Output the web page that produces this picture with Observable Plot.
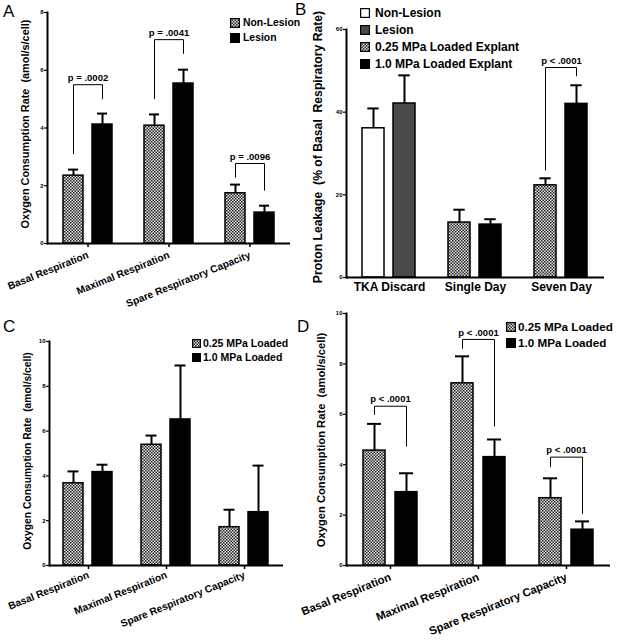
<!DOCTYPE html>
<html><head><meta charset="utf-8">
<script src="https://cdn.jsdelivr.net/npm/d3@7"></script>
<script src="https://cdn.jsdelivr.net/npm/@observablehq/plot@0.6"></script>
<style>
body{margin:0;background:#fff;}
#fig{position:relative;width:617px;height:644px;overflow:hidden;font-family:"Liberation Sans",Arial,sans-serif;color:#000;background:#fff;}
.panel{position:absolute;}
.ytitle{position:absolute;white-space:pre;font-weight:bold;transform:translate(-50%,-50%) rotate(-90deg);line-height:1;}
.letter{position:absolute;font-size:17px;line-height:1;}
.leg{position:absolute;display:flex;align-items:center;font-weight:bold;white-space:pre;line-height:1;}
.leg svg{display:block;}
</style></head>
<body>
<svg width="0" height="0" style="position:absolute"><defs>
<pattern id="checker" patternUnits="userSpaceOnUse" width="3" height="3">
<rect width="3" height="3" fill="#e0e0e0"/><rect width="1.5" height="1.5" fill="#262626"/><rect x="1.5" y="1.5" width="1.5" height="1.5" fill="#262626"/>
</pattern></defs></svg>
<div id="fig"></div>
<script>
// ---------- data ----------
const respCategories = ["Basal Respiration", "Maximal Respiration", "Spare Respiratory Capacity"];
const explantCategories = ["TKA Discard", "Single Day", "Seven Day"];

// Panel A
const aSeries = ["Non-Lesion", "Lesion"];
const aNonLesion = [2.35, 4.08, 1.74];
const aNonLesionErr = [0.21, 0.39, 0.30];
const aLesion = [4.12, 5.54, 1.07];
const aLesionErr = [0.38, 0.48, 0.24];
const aPCategories = ["Basal Respiration", "Maximal Respiration", "Spare Respiratory Capacity"];
const aPLabels = ["p = .0002", "p = .0041", "p = .0096"];
const aBracketTop = [5.5, 7.06, 2.77];
const aBracketLeftEnd = [3.1, 5.0, 2.28];
const aBracketRightEnd = [5.0, 6.57, 1.83];
const aTicks = [0, 2, 4, 6, 8];

// Panel B
const bSeries = ["Non-Lesion", "Lesion", "0.25 MPa Loaded Explant", "1.0 MPa Loaded Explant"];
const bLeftSeries = ["Non-Lesion", "0.25 MPa Loaded Explant", "0.25 MPa Loaded Explant"];
const bRightSeries = ["Lesion", "1.0 MPa Loaded Explant", "1.0 MPa Loaded Explant"];
const bLeft = [36.1, 13.3, 22.3];
const bLeftErr = [4.8, 3.1, 1.7];
const bRight = [42.1, 12.8, 42.0];
const bRightErr = [6.8, 1.3, 4.5];
const bPCategories = ["Seven Day"];
const bPLabels = ["p < .0001"];
const bBracketTop = [50.8];
const bBracketLeftEnd = [25.9];
const bBracketRightEnd = [48.7];
const bTicks = [0, 20, 40, 60];

// Panel C
const cSeries = ["0.25 MPa Loaded", "1.0 MPa Loaded"];
const cLow = [3.67, 5.39, 1.71];
const cLowErr = [0.53, 0.41, 0.78];
const cHigh = [4.17, 6.52, 2.38];
const cHighErr = [0.33, 2.41, 2.08];
const cTicks = [0, 2, 4, 6, 8, 10];

// Panel D
const dSeries = ["0.25 MPa Loaded", "1.0 MPa Loaded"];
const dLow = [4.56, 7.23, 2.67];
const dLowErr = [1.06, 1.07, 0.79];
const dHigh = [2.91, 4.30, 1.42];
const dHighErr = [0.75, 0.70, 0.33];
const dPCategories = ["Basal Respiration", "Maximal Respiration", "Spare Respiratory Capacity"];
const dPLabels = ["p < .0001", "p < .0001", "p < .0001"];
const dBracketTop = [6.32, 8.97, 4.3];
const dBracketLeftEnd = [5.98, 8.6, 3.9];
const dBracketRightEnd = [4.72, 5.52, 2.05];
const dTicks = [0, 2, 4, 6, 8, 10];

const CHECK = "url(#checker)";
const fig = document.getElementById("fig");

function panel(o) {
  const rows = o.cats.flatMap((c, i) => [
    {cat: c, slot: "left", series: o.leftSeries[i], value: o.left[i], err: o.leftErr[i]},
    {cat: c, slot: "right", series: o.rightSeries[i], value: o.right[i], err: o.rightErr[i]}
  ]);
  const br = (o.pCats || []).map((c, i) => ({cat: c, label: o.pLabels[i], top: o.top[i], lo: o.lEnd[i], ro: o.rEnd[i], xl: "left", xr: "right"}));
  const svg = Plot.plot({
    width: o.width, height: o.height,
    marginLeft: o.ml, marginRight: o.mr, marginTop: o.mt, marginBottom: o.mb,
    style: {fontFamily: "'Liberation Sans', Arial, sans-serif", background: "transparent", overflow: "visible", color: "black"},
    fx: {domain: o.cats, padding: 0, label: null},
    x: {domain: ["left", "right"], paddingInner: o.pi, paddingOuter: o.po, axis: null},
    y: {domain: o.yDomain, label: null},
    color: {domain: o.series, range: o.fills},
    marks: [
      Plot.ruleX(rows, {fx: "cat", x: "slot", y1: "value", y2: d => d.value + d.err, stroke: "black", strokeWidth: 2}),
      Plot.tickY(rows, {fx: "cat", x: "slot", y: d => d.value + d.err, stroke: "black", strokeWidth: 2, insetLeft: o.cap, insetRight: o.cap}),
      Plot.barY(rows, {fx: "cat", x: "slot", y: "value", fill: "series", stroke: "black", strokeWidth: 1.5}),
      Plot.link(br, {fx: "cat", x1: "xl", x2: "xl", y1: "lo", y2: "top", stroke: "black", strokeWidth: 1}),
      Plot.link(br, {fx: "cat", x1: "xl", x2: "xr", y1: "top", y2: "top", stroke: "black", strokeWidth: 1}),
      Plot.link(br, {fx: "cat", x1: "xr", x2: "xr", y1: "ro", y2: "top", stroke: "black", strokeWidth: 1}),
      Plot.text(br, {fx: "cat", y: "top", text: "label", dy: -7, fontSize: o.pFont, fontWeight: "bold", fill: "black"}),
      Plot.ruleY([0], {stroke: "black", strokeWidth: 2}),
      Plot.frame({anchor: "left", facetAnchor: "left", stroke: "black", strokeWidth: 2}),
      Plot.axisY({ticks: o.ticks, tickSize: 3, tickPadding: 1, fontSize: 6, fontWeight: "bold", label: null, strokeWidth: 1.2}),
      Plot.axisFx({anchor: "bottom", tickRotate: o.rotate, tickSize: o.tickSize, tickPadding: o.tickPadding, fontSize: o.xFont, fontWeight: "bold", label: null, strokeWidth: 1.5})
    ]
  });
  svg.classList.add("panel");
  svg.style.left = o.left0 + "px";
  svg.style.top = o.top0 + "px";
  fig.appendChild(svg);
}

function legend(items, fills, o) {
  items.forEach((name, i) => {
    const row = document.createElement("div");
    row.className = "leg";
    row.style.left = o.x + "px";
    row.style.top = (o.y + i * o.gap) + "px";
    row.style.height = o.gap + "px";
    row.style.fontSize = o.fontSize + "px";
    row.innerHTML = `<svg width="${o.size}" height="${o.size}" style="margin-right:${o.sep}px"><rect x="0.6" y="0.6" width="${o.size - 1.2}" height="${o.size - 1.2}" fill="${fills[i]}" stroke="black" stroke-width="1.2"/></svg><span>${name}</span>`;
    fig.appendChild(row);
  });
}

function label(text, cls, x, y, size) {
  const d = document.createElement("div");
  d.className = cls;
  d.textContent = text;
  d.style.left = x + "px";
  d.style.top = y + "px";
  if (size) d.style.fontSize = size + "px";
  fig.appendChild(d);
}

// Panel D first (its svg reaches above the panel row boundary)
panel({
  cats: respCategories, series: dSeries, fills: [CHECK, "black"],
  leftSeries: respCategories.map(() => dSeries[0]), rightSeries: respCategories.map(() => dSeries[1]),
  left: dLow, leftErr: dLowErr, right: dHigh, rightErr: dHighErr,
  pCats: dPCategories, pLabels: dPLabels, top: dBracketTop, lEnd: dBracketLeftEnd, rEnd: dBracketRightEnd,
  yDomain: [0, 10], ticks: dTicks,
  width: 312, height: 344, ml: 40, mr: 6.5, mt: 13, mb: 79, left0: 305, top0: 300,
  pi: 0.3, po: 0.49, cap: 4, pFont: 9.5, xFont: 11.3, rotate: -22, tickSize: 4, tickPadding: 7
});
// Panel A
panel({
  cats: respCategories, series: aSeries, fills: [CHECK, "black"],
  leftSeries: respCategories.map(() => aSeries[0]), rightSeries: respCategories.map(() => aSeries[1]),
  left: aNonLesion, leftErr: aNonLesionErr, right: aLesion, rightErr: aLesionErr,
  pCats: aPCategories, pLabels: aPLabels, top: aBracketTop, lEnd: aBracketLeftEnd, rEnd: aBracketRightEnd,
  yDomain: [0, 8], ticks: aTicks,
  width: 305, height: 320, ml: 46, mr: 14.5, mt: 12, mb: 77, left0: 0, top0: 0,
  pi: 0.3, po: 0.5, cap: 5, pFont: 9.5, xFont: 10.2, rotate: -22, tickSize: 4, tickPadding: 7
});
// Panel B
panel({
  cats: explantCategories, series: bSeries, fills: ["white", "#4a4a4a", CHECK, "black"],
  leftSeries: bLeftSeries, rightSeries: bRightSeries,
  left: bLeft, leftErr: bLeftErr, right: bRight, rightErr: bRightErr,
  pCats: bPCategories, pLabels: bPLabels, top: bBracketTop, lEnd: bBracketLeftEnd, rEnd: bBracketRightEnd,
  yDomain: [0, 60], ticks: bTicks,
  width: 312, height: 320, ml: 40, mr: 12, mt: 29, mb: 43, left0: 305, top0: 0,
  pi: 0.29, po: 0.5, cap: 5.3, pFont: 9.5, xFont: 12, rotate: 0, tickSize: 0, tickPadding: 5
});
// Panel C
panel({
  cats: respCategories, series: cSeries, fills: [CHECK, "black"],
  leftSeries: respCategories.map(() => cSeries[0]), rightSeries: respCategories.map(() => cSeries[1]),
  left: cLow, leftErr: cLowErr, right: cHigh, rightErr: cHighErr,
  pCats: [], pLabels: [], top: [], lEnd: [], rEnd: [],
  yDomain: [0, 10], ticks: cTicks,
  width: 305, height: 324, ml: 48, mr: 20.75, mt: 21, mb: 79, left0: 0, top0: 320,
  pi: 0.3, po: 0.46, cap: 4.5, pFont: 9.5, xFont: 10.2, rotate: -22, tickSize: 4, tickPadding: 5
});

// legends
legend(aSeries, [CHECK, "black"], {x: 230, y: 15.5, gap: 15, size: 10, sep: 3, fontSize: 10.4});
legend(bSeries, ["white", "#4a4a4a", CHECK, "black"], {x: 360, y: 4.5, gap: 17, size: 10, sep: 5, fontSize: 12});
legend(cSeries, [CHECK, "black"], {x: 192, y: 336, gap: 14, size: 9, sep: 2, fontSize: 10.5});
legend(dSeries, [CHECK, "black"], {x: 506, y: 319, gap: 16, size: 10, sep: 2, fontSize: 11.7});

// axis titles
label("Oxygen Consumption Rate  (amol/s/cell)", "ytitle", 25, 124, 10.9);
label("Proton Leakage  (% of Basal  Respiratory Rate)", "ytitle", 318, 147, 12.2);
label("Oxygen Consumption Rate  (amol/s/cell)", "ytitle", 28, 451, 10.3);
label("Oxygen Consumption Rate  (amol/s/cell)", "ytitle", 322, 440, 11.2);

// panel letters
label("A", "letter", 3, 3);
label("B", "letter", 295, 1);
label("C", "letter", 3, 318);
label("D", "letter", 297, 318);
</script>
</body></html>
